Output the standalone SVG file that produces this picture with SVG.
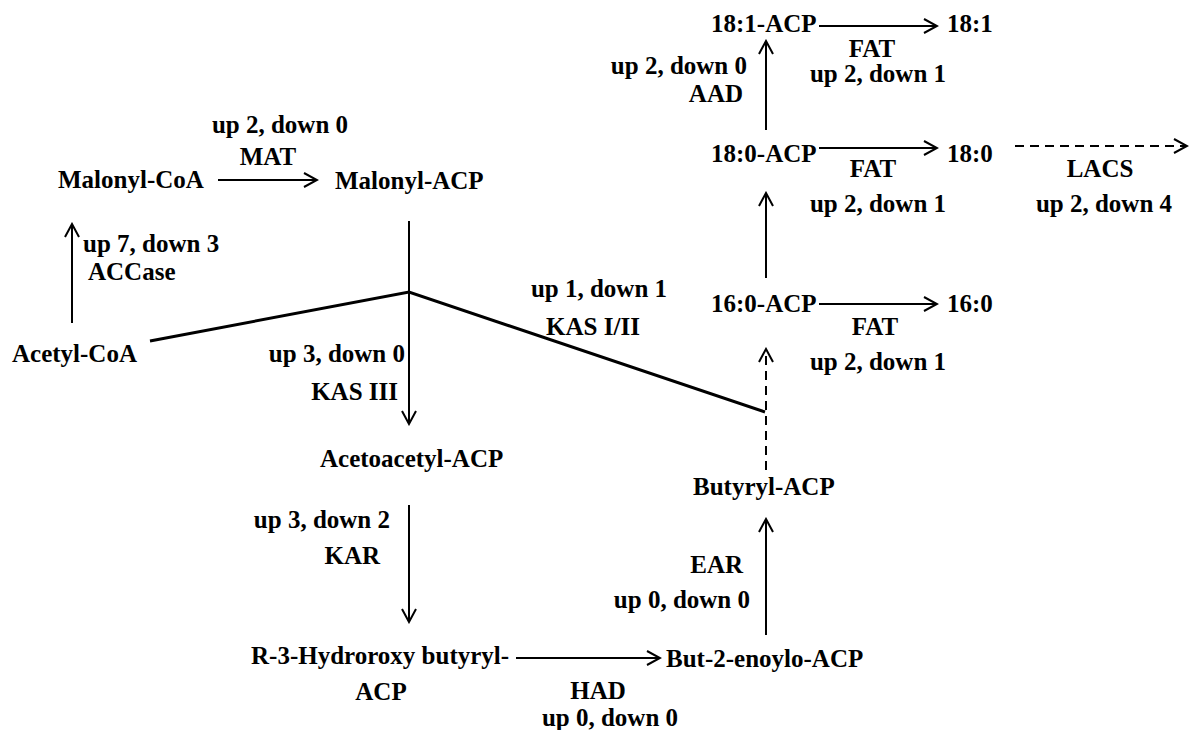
<svg xmlns="http://www.w3.org/2000/svg" width="1191" height="730" viewBox="0 0 1191 730">
<style>
text{font-family:"Liberation Serif","Times New Roman",serif;font-weight:bold;font-size:25px;fill:#000}
.c{fill:none;stroke:#000;stroke-width:2}
.d{stroke-dasharray:9,6}
.k{stroke-width:3}
</style>
<defs>
<marker id="ah" markerUnits="userSpaceOnUse" viewBox="-15 -9 17 18" refX="0" refY="0" markerWidth="17" markerHeight="18" orient="auto">
<path d="M-13,-7 L0,0 L-13,7" fill="none" stroke="#000" stroke-width="2"/>
</marker>
</defs>
<rect width="1191" height="730" fill="#fff"/>
<g id="connectors">
<line class="c" x1="72" y1="323" x2="72" y2="224" marker-end="url(#ah)"/>
<line class="c" x1="218" y1="180" x2="317" y2="180" marker-end="url(#ah)"/>
<line class="c" x1="409" y1="221" x2="409" y2="424" marker-end="url(#ah)"/>
<polyline class="c k" points="150,341 409,292 765,412"/>
<line class="c" x1="409" y1="505" x2="409" y2="622" marker-end="url(#ah)"/>
<line class="c" x1="516" y1="658" x2="660" y2="658" marker-end="url(#ah)"/>
<line class="c" x1="766" y1="635" x2="766" y2="519" marker-end="url(#ah)"/>
<line class="c d" x1="766" y1="470" x2="766" y2="349" marker-end="url(#ah)"/>
<line class="c" x1="819" y1="304" x2="937" y2="304" marker-end="url(#ah)"/>
<line class="c" x1="766" y1="278" x2="766" y2="193" marker-end="url(#ah)"/>
<line class="c" x1="819" y1="148" x2="937" y2="148" marker-end="url(#ah)"/>
<line class="c d" x1="1015" y1="146" x2="1187" y2="146" marker-end="url(#ah)"/>
<line class="c" x1="766" y1="130" x2="766" y2="41" marker-end="url(#ah)"/>
<line class="c" x1="819" y1="26" x2="937" y2="26" marker-end="url(#ah)"/>
</g>
<g id="acetyl-coa"><text x="12" y="362">Acetyl-CoA</text></g>
<g id="malonyl-coa"><text x="58" y="188">Malonyl-CoA</text></g>
<g id="malonyl-acp"><text x="335" y="189">Malonyl-ACP</text></g>
<g id="acetoacetyl-acp"><text x="320" y="467">Acetoacetyl-ACP</text></g>
<g id="r3-hydroxybutyryl-acp"><text x="251" y="664">R-3-Hydroroxy butyryl-</text><text x="381" y="700" text-anchor="middle">ACP</text></g>
<g id="but-2-enoylo-acp"><text x="666" y="667">But-2-enoylo-ACP</text></g>
<g id="butyryl-acp"><text x="693" y="495">Butyryl-ACP</text></g>
<g id="acp-16-0"><text x="711" y="312">16:0-ACP</text></g>
<g id="ffa-16-0"><text x="947" y="312">16:0</text></g>
<g id="acp-18-0"><text x="711" y="162">18:0-ACP</text></g>
<g id="ffa-18-0"><text x="947" y="162">18:0</text></g>
<g id="acp-18-1"><text x="711" y="32">18:1-ACP</text></g>
<g id="ffa-18-1"><text x="947" y="32">18:1</text></g>
<g id="labels">
<text x="280" y="133" text-anchor="middle">up 2, down 0</text>
<text x="268" y="165" text-anchor="middle">MAT</text>
<text x="83" y="252">up 7, down 3</text>
<text x="88" y="280">ACCase</text>
<text x="405" y="362" text-anchor="end">up 3, down 0</text>
<text x="398" y="400" text-anchor="end">KAS III</text>
<text x="599" y="297" text-anchor="middle">up 1, down 1</text>
<text x="593" y="335" text-anchor="middle">KAS I/II</text>
<text x="390" y="528" text-anchor="end">up 3, down 2</text>
<text x="380" y="564" text-anchor="end">KAR</text>
<text x="598" y="699" text-anchor="middle">HAD</text>
<text x="610" y="726" text-anchor="middle">up 0, down 0</text>
<text x="743" y="573" text-anchor="end">EAR</text>
<text x="750" y="608" text-anchor="end">up 0, down 0</text>
<text x="875" y="335" text-anchor="middle">FAT</text>
<text x="878" y="370" text-anchor="middle">up 2, down 1</text>
<text x="873" y="177" text-anchor="middle">FAT</text>
<text x="878" y="212" text-anchor="middle">up 2, down 1</text>
<text x="1100" y="177" text-anchor="middle">LACS</text>
<text x="1104" y="212" text-anchor="middle">up 2, down 4</text>
<text x="747" y="74" text-anchor="end">up 2, down 0</text>
<text x="743" y="102" text-anchor="end">AAD</text>
<text x="872" y="57" text-anchor="middle">FAT</text>
<text x="878" y="82" text-anchor="middle">up 2, down 1</text>
</g>
</svg>
